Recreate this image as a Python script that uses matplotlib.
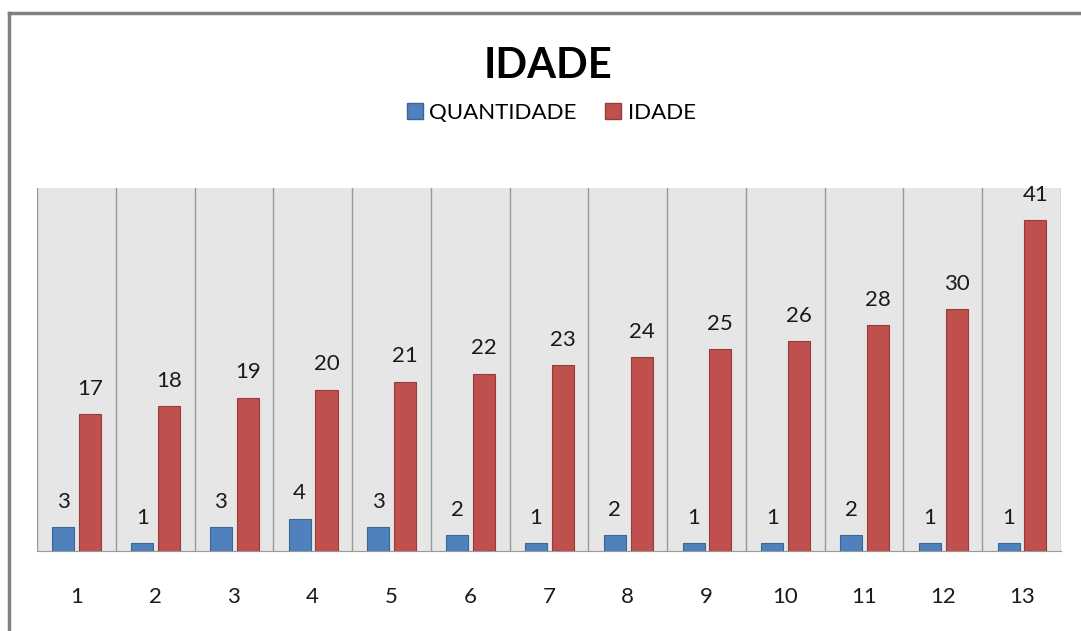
import matplotlib.pyplot as plt
from matplotlib.lines import Line2D
from matplotlib.patches import Patch
import numpy as np

plt.rcParams["font.family"] = ["Lato", "DejaVu Sans"]

categorias = ["1", "2", "3", "4", "5", "6", "7", "8", "9", "10", "11", "12", "13"]
quantidade = [3, 1, 3, 4, 3, 2, 1, 2, 1, 1, 2, 1, 1]
idade = [17, 18, 19, 20, 21, 22, 23, 24, 25, 26, 28, 30, 41]

azul = "#4f81bd"
vermelho = "#c0504d"

fig = plt.figure(figsize=(10.81, 6.31), dpi=100)
ax = fig.add_axes([37 / 1081, 1 - 551 / 631, (1061 - 37) / 1081, (551 - 188) / 631])

x = np.arange(len(categorias))
w = 0.28
b1 = ax.bar(x - 0.165, quantidade, w, color=azul, edgecolor="#3a6597", linewidth=0.8, zorder=3)
b2 = ax.bar(x + 0.175, idade, w, color=vermelho, edgecolor="#963c3a", linewidth=0.8, zorder=3)

for bars, vals in ((b1, quantidade), (b2, idade)):
    for r, v in zip(bars, vals):
        ax.annotate(str(v), (r.get_x() + r.get_width() / 2, r.get_height()),
                    xytext=(0, 11), textcoords="offset points", ha="center", va="bottom",
                    fontsize=16, color="#1a1a1a")

ax.set_xlim(-0.5, len(categorias) - 0.5)
ax.set_ylim(0, 45)
ax.set_facecolor("#e6e6e6")
for xv in np.arange(-0.5, len(categorias) + 0.5, 1):
    ax.axvline(xv, color="#999999", lw=1, zorder=1)
for s in ("top", "right", "left"):
    ax.spines[s].set_visible(False)
ax.spines["bottom"].set_color("#999999")
ax.set_yticks([])
ax.set_xticks(x)
ax.set_xticklabels(categorias, fontsize=16, color="#1a1a1a")
ax.tick_params(axis="x", length=0, pad=26)

fig.text(0.507, 1 - 66 / 631, "IDADE", ha="center", va="center", fontsize=30, fontweight="bold")
handles = [Patch(facecolor=azul, edgecolor="#3a6597", label="QUANTIDADE"),
           Patch(facecolor=vermelho, edgecolor="#963c3a", label="IDADE")]
fig.legend(handles=handles, loc="center", bbox_to_anchor=(0.51, 1 - 113 / 631), ncol=2,
           frameon=False, fontsize=16, handlelength=0.7, handleheight=0.7,
           handletextpad=0.3, columnspacing=1.3)

# moldura cinza (esquerda e topo)
fig.add_artist(Line2D([9 / 1081, 9 / 1081], [0, 1 - 13 / 631], color="#808080", lw=2.5,
                      transform=fig.transFigure))
fig.add_artist(Line2D([9 / 1081, 1], [1 - 13 / 631, 1 - 13 / 631], color="#808080", lw=2.5,
                      transform=fig.transFigure))

fig.savefig("out.png", dpi=100)
